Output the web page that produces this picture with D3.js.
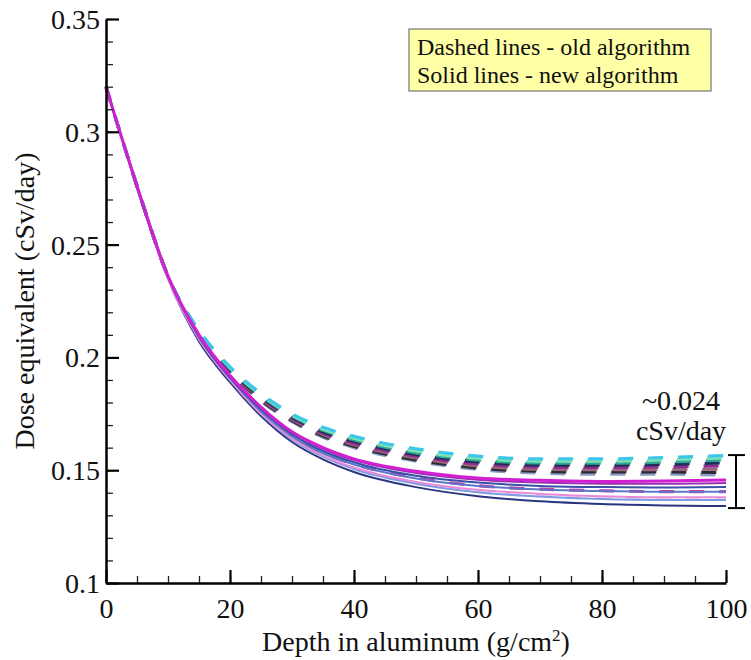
<!DOCTYPE html>
<html>
<head>
<meta charset="utf-8">
<script src="https://cdn.jsdelivr.net/npm/d3@7"></script>
<style>
  body { margin: 0; background: #fff; }
  svg text { font-family: "Liberation Serif", "DejaVu Serif", serif; fill: #111; }
</style>
</head>
<body>
<div id="chart"></div>
<script>
var serif = "'Liberation Serif', 'DejaVu Serif', serif";

// depth points (g/cm^2)
var depths = [0, 2, 5, 10, 15, 20, 25, 30, 35, 40, 50, 60, 70, 80, 90, 100];

// new algorithm - solid lines
var newColors = ["#d21fd2", "#9a2fb0", "#3a4fa8", "#5b78c8", "#e98ad8", "#7d9be0", "#2a3580"];
var new1 = [0.320, 0.302, 0.276, 0.236, 0.210, 0.192, 0.178, 0.167, 0.160, 0.1550, 0.1495, 0.1465, 0.1455, 0.1450, 0.1452, 0.1457];
var new2 = [0.320, 0.302, 0.276, 0.236, 0.210, 0.192, 0.178, 0.167, 0.1595, 0.1545, 0.1488, 0.1458, 0.1445, 0.1440, 0.1440, 0.1443];
var new3 = [0.320, 0.302, 0.276, 0.236, 0.209, 0.191, 0.177, 0.166, 0.1585, 0.1535, 0.1475, 0.1445, 0.1430, 0.1425, 0.1423, 0.1425];
var new4 = [0.320, 0.302, 0.276, 0.236, 0.209, 0.191, 0.176, 0.165, 0.1575, 0.1525, 0.1463, 0.1430, 0.1415, 0.1408, 0.1405, 0.1405];
var new5 = [0.320, 0.302, 0.276, 0.235, 0.208, 0.190, 0.175, 0.164, 0.1565, 0.1512, 0.1448, 0.1413, 0.1395, 0.1385, 0.1380, 0.1380];
var new6 = [0.320, 0.302, 0.276, 0.235, 0.208, 0.190, 0.175, 0.1635, 0.1560, 0.1505, 0.1440, 0.1402, 0.1383, 0.1372, 0.1368, 0.1368];
var new7 = [0.320, 0.302, 0.275, 0.235, 0.207, 0.189, 0.174, 0.1625, 0.1548, 0.1492, 0.1425, 0.1385, 0.1362, 0.1350, 0.1344, 0.1341];

// old algorithm - dashed lines
var oldColors = ["#ead2f2", "#cc3aa2", "#8aa0c0", "#2a2a36", "#9c6478", "#8e2c92", "#1e2f55", "#2fa79a", "#7fe3b0", "#3cc6ea"];
var old10 = [0.320, 0.302, 0.276, 0.235, 0.208, 0.190, 0.175, 0.1640, 0.1563, 0.1508, 0.1443, 0.1405, 0.1386, 0.1376, 0.1372, 0.1372];
var old9 = [0.320, 0.302, 0.276, 0.236, 0.209, 0.1905, 0.1765, 0.1655, 0.1578, 0.1527, 0.1466, 0.1431, 0.1416, 0.1409, 0.1405, 0.1405];
var old8 = [0.320, 0.302, 0.276, 0.236, 0.2105, 0.1930, 0.1805, 0.1715, 0.1646, 0.1600, 0.1540, 0.1503, 0.1487, 0.1482, 0.1482, 0.1478];
var old7 = [0.320, 0.302, 0.276, 0.236, 0.2105, 0.1935, 0.1810, 0.1720, 0.1652, 0.1606, 0.1546, 0.1510, 0.1495, 0.1492, 0.1492, 0.1490];
var old6 = [0.320, 0.302, 0.276, 0.236, 0.2108, 0.1938, 0.1815, 0.1725, 0.1658, 0.1613, 0.1554, 0.1519, 0.1504, 0.1502, 0.1503, 0.1505];
var old5 = [0.320, 0.302, 0.276, 0.236, 0.2110, 0.1942, 0.1820, 0.1730, 0.1664, 0.1620, 0.1562, 0.1528, 0.1514, 0.1512, 0.1515, 0.1520];
var old4 = [0.320, 0.302, 0.276, 0.236, 0.2112, 0.1946, 0.1825, 0.1735, 0.1670, 0.1628, 0.1570, 0.1537, 0.1523, 0.1522, 0.1526, 0.1533];
var old3 = [0.320, 0.302, 0.276, 0.236, 0.2115, 0.1950, 0.1830, 0.1740, 0.1677, 0.1635, 0.1577, 0.1545, 0.1532, 0.1531, 0.1536, 0.1545];
var old2 = [0.320, 0.302, 0.276, 0.236, 0.2118, 0.1954, 0.1835, 0.1745, 0.1683, 0.1642, 0.1585, 0.1553, 0.1540, 0.1540, 0.1546, 0.1555];
var old1 = [0.320, 0.302, 0.276, 0.236, 0.2120, 0.1958, 0.1840, 0.1750, 0.1690, 0.1650, 0.1595, 0.1562, 0.1550, 0.1550, 0.1556, 0.1565];

var newSeries = [new1, new2, new3, new4, new5, new6, new7];
var oldSeries = [old10, old9, old8, old7, old6, old5, old4, old3, old2, old1];

var xTicks = [0, 20, 40, 60, 80, 100];
var yTicks = [0.1, 0.15, 0.2, 0.25, 0.3, 0.35];
var legendLines = ["Dashed lines - old algorithm", "Solid lines - new algorithm"];
var spreadLabel = ["~0.024", "cSv/day"];
var spreadRange = [0.1332, 0.1567];

var margin = {top: 19, right: 25, bottom: 77, left: 106},
    width = 751 - margin.left - margin.right,
    height = 660 - margin.top - margin.bottom;

var svg = d3.select("#chart").append("svg")
    .attr("width", 751)
    .attr("height", 660)
  .append("g")
    .attr("transform", "translate(" + margin.left + "," + margin.top + ")");

var x = d3.scaleLinear().domain([0, 100]).range([0, width]);
var y = d3.scaleLinear().domain([0.1, 0.35]).range([height, 0]);

var line = d3.line()
    .x(function(d, i) { return x(depths[i]); })
    .y(function(d) { return y(d); })
    .curve(d3.curveMonotoneX);

// dashed first, solid on top
svg.append("g").selectAll("path")
    .data(oldSeries)
  .enter().append("path")
    .attr("d", line)
    .style("fill", "none")
    .style("stroke", function(d, i) { return oldColors[i]; })
    .style("stroke-width", 3.2)
    .style("stroke-dasharray", "15,15");

svg.append("g").selectAll("path")
    .data(newSeries.slice().reverse())
  .enter().append("path")
    .attr("d", line)
    .style("fill", "none")
    .style("stroke", function(d, i) { return newColors[newColors.length - 1 - i]; })
    .style("stroke-width", function(d, i) { return i == newSeries.length - 1 ? 3 : 2; });

// minor ticks
svg.append("g")
    .attr("class", "minor")
    .attr("transform", "translate(0," + height + ")")
    .call(d3.axisBottom(x).tickValues(d3.range(0, 101, 5)).tickSize(-7).tickFormat(""));
svg.append("g")
    .attr("class", "minor")
    .call(d3.axisLeft(y).tickValues(d3.range(10, 36).map(function(v) { return v / 100; })).tickSize(-7).tickFormat(""));
svg.selectAll(".minor .domain").remove();
svg.selectAll(".minor line").style("stroke", "#222").style("stroke-width", 1.3);

// major ticks + labels
var xAxis = svg.append("g")
    .attr("transform", "translate(0," + height + ")")
    .call(d3.axisBottom(x).tickValues(xTicks).tickSize(-13).tickSizeOuter(0));
xAxis.selectAll("text")
    .attr("y", 35).attr("dy", null)
    .style("font-size", "28px");

var yAxis = svg.append("g")
    .call(d3.axisLeft(y).tickValues(yTicks).tickSize(-13).tickSizeOuter(0).tickFormat(function(d) { return String(d); }));
yAxis.selectAll("text")
    .attr("x", -6).attr("dy", "0.34em")
    .style("font-size", "28px");

svg.selectAll(".domain").style("stroke", "#000").style("stroke-width", 2.5);
xAxis.selectAll("line").style("stroke", "#000").style("stroke-width", 2.2);
yAxis.selectAll("line").style("stroke", "#000").style("stroke-width", 2.2);
xAxis.attr("font-family", null);
yAxis.attr("font-family", null);
svg.selectAll(".tick text").style("fill", "#111").style("font-family", serif);

// axis titles
svg.append("text")
    .attr("x", width / 2)
    .attr("y", 651 - margin.top)
    .attr("text-anchor", "middle")
    .style("font-family", serif)
    .style("font-size", "28px")
    .html("Depth in aluminum (g/cm<tspan dy='-10' font-size='17'>2</tspan><tspan dy='10'>)</tspan>");

svg.append("text")
    .attr("transform", "translate(" + (34 - margin.left) + "," + (height / 2) + ") rotate(-90)")
    .attr("text-anchor", "middle")
    .style("font-family", serif)
    .style("font-size", "28px")
    .text("Dose equivalent (cSv/day)");

// legend box
var legend = svg.append("g")
    .attr("transform", "translate(" + (409 - margin.left) + "," + (29 - margin.top) + ")");
legend.append("rect")
    .attr("width", 302)
    .attr("height", 62)
    .style("fill", "#ffffa6")
    .style("stroke", "#777")
    .style("stroke-width", 1.2);
legend.selectAll("text")
    .data(legendLines)
  .enter().append("text")
    .attr("x", 8)
    .attr("y", function(d, i) { return 26 + i * 27.5; })
    .style("font-family", serif)
    .style("font-size", "24px")
    .text(function(d) { return d; });

// spread annotation
svg.append("g").selectAll("text")
    .data(spreadLabel)
  .enter().append("text")
    .attr("x", 681 - margin.left)
    .attr("y", function(d, i) { return 410 - margin.top + i * 30; })
    .attr("text-anchor", "middle")
    .style("font-family", serif)
    .style("font-size", "28px")
    .text(function(d) { return d; });

var bx = 736 - margin.left;
var bracket = svg.append("g").style("stroke", "#000").style("stroke-width", 2);
bracket.append("line").attr("x1", bx).attr("x2", bx).attr("y1", y(spreadRange[1])).attr("y2", y(spreadRange[0]));
bracket.append("line").attr("x1", bx - 8).attr("x2", bx + 9).attr("y1", y(spreadRange[1])).attr("y2", y(spreadRange[1]));
bracket.append("line").attr("x1", bx - 8).attr("x2", bx + 9).attr("y1", y(spreadRange[0])).attr("y2", y(spreadRange[0]));
</script>
</body>
</html>
